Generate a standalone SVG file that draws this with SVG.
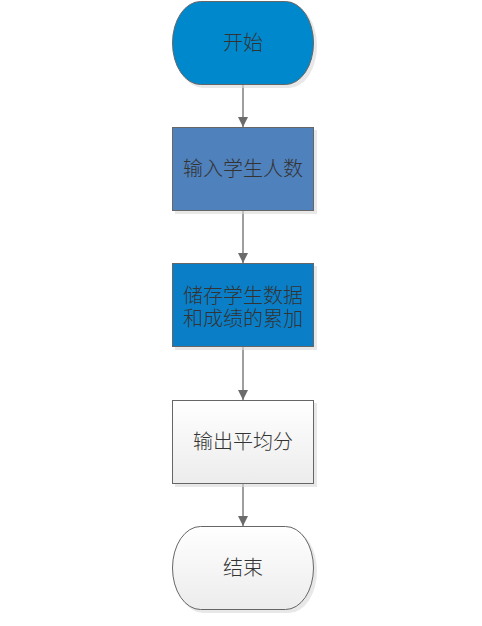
<svg xmlns="http://www.w3.org/2000/svg" width="482" height="626" viewBox="0 0 482 626">
<style>
.shape{stroke:#666666;stroke-width:1}
.shadow{fill:#d9d9d9;opacity:0.6}
.t{font-family:"Liberation Serif","Noto Sans CJK SC",serif;font-size:20px;font-weight:300;fill:#333333;text-anchor:middle;dominant-baseline:central}
.conn{stroke:#6b6b6b;stroke-width:1.3;fill:none}
</style>
<defs>
<linearGradient id="g" x1="0" y1="0" x2="0" y2="1"><stop offset="0" stop-color="#ffffff"/><stop offset="1" stop-color="#ececec"/></linearGradient>
<marker id="arr" viewBox="0 0 10 10" refX="10" refY="5" markerWidth="10" markerHeight="10" markerUnits="userSpaceOnUse" orient="auto"><path d="M0,0 L10,5 L0,10 Z" fill="#6b6b6b"/></marker>
</defs>
<g id="connectors">
<line class="conn" x1="243" y1="85" x2="243" y2="127" marker-end="url(#arr)"/>
<line class="conn" x1="243" y1="211" x2="243" y2="263" marker-end="url(#arr)"/>
<line class="conn" x1="243" y1="347" x2="243" y2="400" marker-end="url(#arr)"/>
<line class="conn" x1="243" y1="484" x2="243" y2="526" marker-end="url(#arr)"/>
</g>
<g id="start">
<rect class="shadow" x="175" y="4" width="142" height="84" rx="28" ry="42"/>
<rect class="shape" x="172.5" y="1.5" width="141" height="83" rx="28" ry="41.5" fill="#0088cc"/>
<text class="t" x="243" y="43">开始</text>
</g>
<g id="input">
<rect class="shadow" x="175" y="130" width="142" height="84"/>
<rect class="shape" x="172.5" y="127.5" width="141" height="83" fill="#4f81bd"/>
<text class="t" x="243" y="169">输入学生人数</text>
</g>
<g id="store">
<rect class="shadow" x="175" y="266" width="142" height="84"/>
<rect class="shape" x="172.5" y="263.5" width="141" height="83" fill="#0a7fc8"/>
<text class="t" x="243" y="296">储存学生数据</text>
<text class="t" x="243" y="319">和成绩的累加</text>
</g>
<g id="output">
<rect class="shadow" x="175" y="403" width="142" height="84"/>
<rect class="shape" x="172.5" y="400.5" width="141" height="83" fill="url(#g)"/>
<text class="t" x="243" y="442">输出平均分</text>
</g>
<g id="end">
<rect class="shadow" x="175" y="529" width="142" height="84" rx="28" ry="42"/>
<rect class="shape" x="172.5" y="526.5" width="141" height="83" rx="28" ry="41.5" fill="url(#g)"/>
<text class="t" x="243" y="568">结束</text>
</g>
</svg>
